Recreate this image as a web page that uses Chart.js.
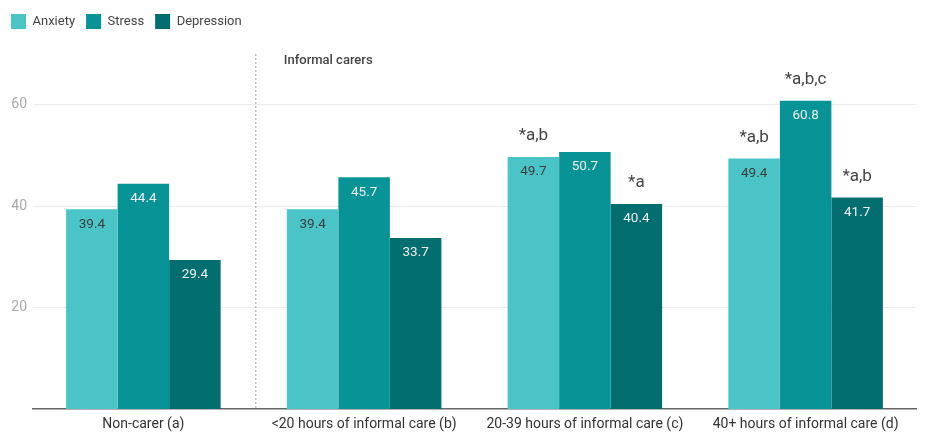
<!DOCTYPE html>
<html><head><meta charset="utf-8">
<script src="https://cdn.jsdelivr.net/npm/chart.js@4"></script>
<style>html,body{margin:0;padding:0;background:#fff}#wrap{width:925px;height:433px}</style>
</head><body><div id="wrap"><canvas id="c"></canvas></div>
<script>
const categories = ["Non-carer (a)", "<20 hours of informal care (b)", "20-39 hours of informal care (c)", "40+ hours of informal care (d)"];
const anxiety = [39.4, 39.4, 49.7, 49.4];
const stress = [44.4, 45.7, 50.7, 60.8];
const depression = [29.4, 33.7, 40.4, 41.7];
const anxietyNotes = ["", "", "*a,b", "*a,b"];
const stressNotes = ["", "", "", "*a,b,c"];
const depressionNotes = ["", "", "*a", "*a,b"];
const yTicks = [20, 40, 60];
const groupLabel = "Informal carers";

const colors = ['#4bc4c7', '#089496', '#036e6f'];
const labelColors = ['#3d3d3d', '#eeeeee', '#eeeeee'];
const notes = [anxietyNotes, stressNotes, depressionNotes];

const legendSpace = {
  id: 'legendSpace',
  beforeInit(chart) {
    const fit = chart.legend.fit;
    chart.legend.fit = function() { fit.call(this); this.height += 15; };
  }
};

const extras = {
  id: 'extras',
  afterDatasetsDraw(chart) {
    const ctx = chart.ctx, x = chart.scales.x, area = chart.chartArea;
    const sx = (x.getPixelForValue(0) + x.getPixelForValue(1)) / 2 + 2;
    ctx.save();
    ctx.strokeStyle = '#bbbbbb';
    ctx.lineWidth = 1.5;
    ctx.setLineDash([2, 2]);
    ctx.beginPath(); ctx.moveTo(sx, area.top); ctx.lineTo(sx, area.bottom); ctx.stroke();
    ctx.setLineDash([]);
    ctx.fillStyle = '#444';
    ctx.font = '500 13px Roboto';
    ctx.textAlign = 'left'; ctx.textBaseline = 'middle';
    ctx.fillText(groupLabel, sx + 28, area.top + 7);
    chart.data.datasets.forEach((ds, di) => {
      const meta = chart.getDatasetMeta(di);
      meta.data.forEach((bar, i) => {
        ctx.textAlign = 'center'; ctx.textBaseline = 'middle';
        ctx.font = '13.5px Roboto';
        ctx.fillStyle = labelColors[di];
        ctx.fillText(ds.data[i].toFixed(1), bar.x, bar.y + 15);
        const n = notes[di][i];
        if (n) {
          ctx.font = '17px Roboto';
          ctx.fillStyle = '#444';
          ctx.fillText(n, bar.x, bar.y - 21);
        }
      });
    });
    ctx.restore();
  }
};

new Chart(document.getElementById('c'), {
  type: 'bar',
  data: {
    labels: categories,
    datasets: [
      { label: 'Anxiety', data: anxiety, backgroundColor: colors[0] },
      { label: 'Stress', data: stress, backgroundColor: colors[1] },
      { label: 'Depression', data: depression, backgroundColor: colors[2] }
    ]
  },
  options: {
    responsive: true, maintainAspectRatio: false, animation: false,
    layout: { padding: { left: 0, right: 9, top: 3, bottom: 0 } },
    datasets: { bar: { categoryPercentage: 0.7, barPercentage: 1.0 } },
    plugins: {
      tooltip: { enabled: false },
      legend: {
        position: 'top', align: 'start',
        labels: { boxWidth: 15, boxHeight: 15, padding: 11, color: '#444', font: { family: 'Roboto', size: 13 } }
      }
    },
    scales: {
      x: {
        afterFit(scale) { scale.height = 24; },
        grid: { display: false, drawTicks: false },
        border: { color: '#666', width: 1.5 },
        ticks: { color: '#333', font: { family: 'Roboto', size: 14 }, padding: 7, maxRotation: 0, autoSkip: false }
      },
      y: {
        min: 0, max: 70,
        afterBuildTicks(scale) { scale.ticks = yTicks.map(v => ({ value: v })); },
        afterFit(scale) { scale.width = 33; },
        grid: { color: '#ebebeb', drawTicks: false },
        border: { display: false },
        ticks: { color: '#aaa', font: { family: 'Roboto', size: 14 }, padding: 6 }
      }
    }
  },
  plugins: [legendSpace, extras]
});
</script></body></html>
